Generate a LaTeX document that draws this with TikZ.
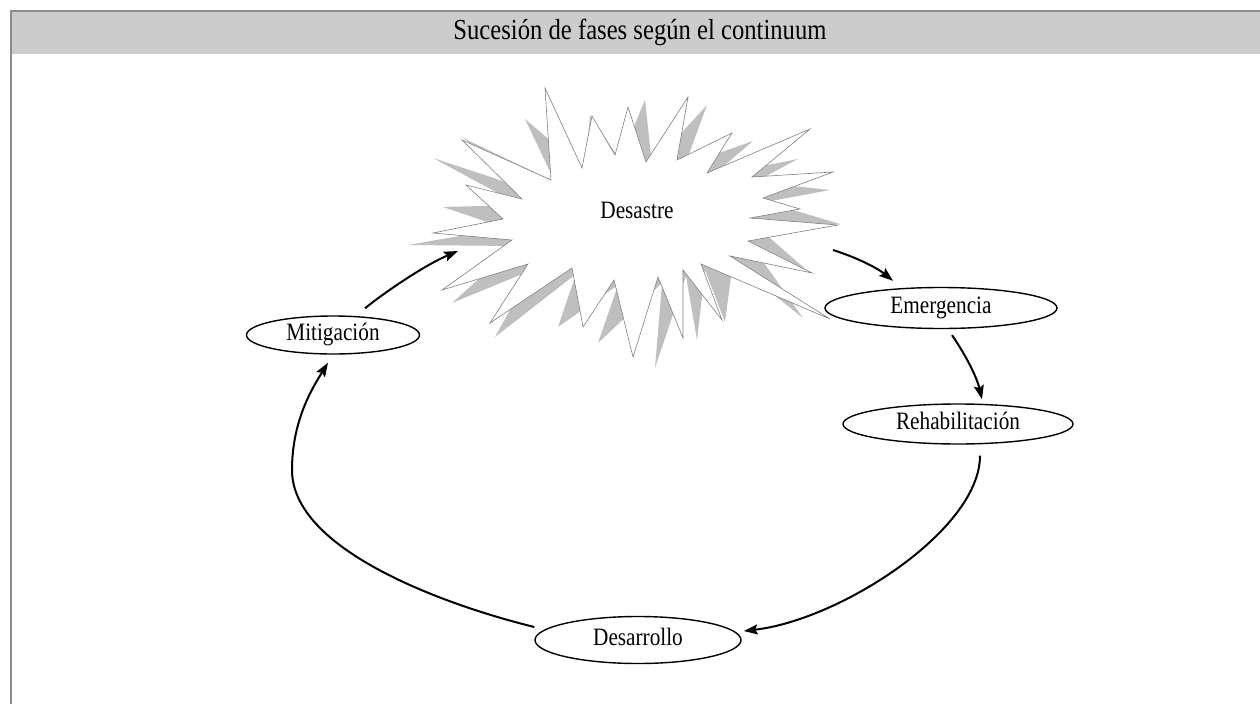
\documentclass[tikz,border=0pt]{standalone}
\usepackage{fontspec}
\setmainfont{Liberation Serif}[FakeStretch=0.85]
\usetikzlibrary{shapes,arrows.meta}

% puntos de la explosion (sin el primero)
\newcommand{\burstpoints}{503/219, 466/185, 522/199, 462/140, 551/180, 545/88, 582/168, 592/116, 615/155, 628/107, 646/162, 688/97, 677/160, 732/133, 707/173, 810/129, 752/177, 833/172, 763/198, 800/209, 750/218, 838/225, 748/241, 812/273, 730/256, 830/319, 701/264, 722/320, 683/270, 683/338, 658/277, 633/357, 614/280, 583/327, 572/268, 490/323, 528/264, 442/290, 512/240}
% puntos de la sombra
\newcommand{\shadowpoints}{505/228, 443/207, 520/205, 433/158, 530/190, 463/138, 555/182, 525/119, 585/170, 590/115, 620/160, 645/100, 652/165, 707/105, 685/165, 753/141, 712/176, 798/159, 755/182, 830/190, 766/202, 840/224, 755/225, 810/273, 752/246, 803/318, 733/262, 725/322, 705/270, 697/340, 686/276, 655/368, 662/283, 598/343, 618/285, 558/327, 576/274, 495/337, 532/270, 452/303, 515/246}

\begin{document}
\begin{tikzpicture}[x=1pt, y=-1pt,
    phase/.style={ellipse, draw, line width=1.4pt, inner sep=0pt, text height=17pt, text depth=5.5pt, font=\fontsize{25}{30}\selectfont},
    flow/.style={line width=2pt, -{Stealth[length=14pt,width=10pt,inset=2.5pt]}}]
\useasboundingbox (0,0) rectangle (1260,704);
\fill [gray!40] (10,10) rectangle (1260,54);
\draw [line width=2.5pt, gray!90] (10.75,704) -- (10.75,10.75) -- (1260,10.75);
\node [anchor=base, font=\fontsize{29}{34}\selectfont] (titulo) at (640,39) {Sucesión de fases según el continuum};

\fill [gray!50] (408,245) \foreach \x/\y in \shadowpoints { -- (\x,\y) } -- cycle;
\filldraw [fill=white, draw=gray, line width=0.6pt] (433,233) \foreach \x/\y in \burstpoints { -- (\x,\y) } -- cycle;
\node [text height=17pt, text depth=5.5pt, font=\fontsize{25}{30}\selectfont] (desastre) at (637,213) {Desastre};
\coordinate (burstE) at (833,250);
\coordinate (burstW) at (458,251);

\node [phase, minimum width=173pt, minimum height=38pt] (mitigacion) at (333,335) {Mitigación};
\node [phase, minimum width=232pt, minimum height=41pt] (emergencia) at (941,308) {Emergencia};
\node [phase, minimum width=230pt, minimum height=40pt] (rehab) at (958,424) {Rehabilitación};
\node [phase, minimum width=206pt, minimum height=47pt] (desarrollo) at (638,640) {Desarrollo};

\draw [flow] (burstE) .. controls (855,257) and (876,267) .. ([xshift=-48pt,yshift=6pt]emergencia.north);
\draw [flow] ([xshift=11pt,yshift=-6pt]emergencia.south) .. controls (967,357) and (977,378) .. ([xshift=24pt,yshift=4pt]rehab.north);
\draw [flow] ([xshift=22pt,yshift=-11pt]rehab.south) .. controls (980,530) and (840,620) .. ([xshift=2pt,yshift=9pt]desarrollo.east);
\draw [flow] ([yshift=13pt]desarrollo.west) .. controls (445,605) and (292,550) .. (292,470) .. controls (292,420) and (313,387) .. ([xshift=-5pt,yshift=-8pt]mitigacion.south);
\draw [flow] ([xshift=32pt,yshift=7pt]mitigacion.north) .. controls (385,292) and (425,265) .. (burstW);
\end{tikzpicture}
\end{document}
